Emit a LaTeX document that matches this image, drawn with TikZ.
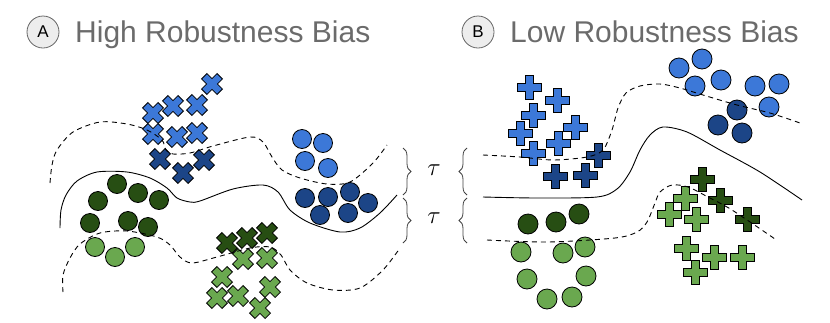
\documentclass[tikz,border=0pt]{standalone}
\usepackage{fontspec}
\setsansfont{Liberation Sans}
\usepackage{xcolor}
\usetikzlibrary{positioning, decorations.pathreplacing}

\definecolor{lblue}{HTML}{3C78D8}
\definecolor{dblue}{HTML}{1C4587}
\definecolor{lgreen}{HTML}{6AA84F}
\definecolor{dgreen}{HTML}{274E13}
\definecolor{titlegray}{HTML}{6B6B6B}

\tikzset{
  xcross/.pic={
    \filldraw[line width=0.8pt, line join=miter]
      (-3.8,-11) -- (3.8,-11) -- (3.8,-3.8) -- (11,-3.8) -- (11,3.8) -- (3.8,3.8)
      -- (3.8,11) -- (-3.8,11) -- (-3.8,3.8) -- (-11,3.8) -- (-11,-3.8) -- (-3.8,-3.8) -- cycle;
  },
  pcross/.pic={
    \filldraw[line width=0.8pt, line join=miter]
      (-4,-12) -- (4,-12) -- (4,-4) -- (12,-4) -- (12,4) -- (4,4)
      -- (4,12) -- (-4,12) -- (-4,4) -- (-12,4) -- (-12,-4) -- (-4,-4) -- cycle;
  }
}

\begin{document}
\begin{tikzpicture}[
    x=1pt, y=-1pt,
    dot/.style={circle, draw=black, line width=0.8pt, minimum size=19pt, inner sep=0pt},
    bigdot/.style={dot, minimum size=20pt},
    tag/.style={circle, draw=black!60, fill=black!7, line width=0.8pt, minimum size=32pt,
                inner sep=0pt, font=\sffamily\fontsize{17}{20}\selectfont},
    heading/.style={anchor=base west, inner sep=0pt, text=titlegray,
                    font=\sffamily\fontsize{30}{34}\selectfont},
    bound/.style={line width=0.9pt, smooth},
    margin/.style={bound, dashed, dash pattern=on 5pt off 4pt},
    gap/.style={decorate, decoration={brace, amplitude=8pt}, line width=0.8pt, black!75},
    taulabel/.style={font=\fontsize{26}{30}\selectfont}
]
    \useasboundingbox (0,0) rectangle (830,322);

    % titles
    \node[tag] (ca) at (43,32) {A};
    \node[heading] (ta) at (75,42) {High Robustness Bias};
    \node[tag] (cb) at (478,32) {B};
    \node[heading] (tb) at (510,42) {Low Robustness Bias};

    % A: crosses
    \foreach \p [count=\i] in {(212,84),(153,113),(173,106),(197,105),(153,134),(177,137),(197,133)}
        \pic[fill=lblue, rotate=45] (axl\i) at \p {xcross};
    \foreach \p [count=\i] in {(160,159),(183,173),(204,160)}
        \pic[fill=dblue, rotate=45] (axd\i) at \p {xcross};
    \foreach \p [count=\i] in {(227,243),(247,238),(267,233)}
        \pic[fill=dgreen, rotate=45] (axg\i) at \p {xcross};
    \foreach \p [count=\i] in {(243,259),(267,258),(222,277),(270,287),(217,298),(238,296),(260,308)}
        \pic[fill=lgreen, rotate=45] (axh\i) at \p {xcross};

    % A: circles
    \foreach \p [count=\i] in {(302,139),(323,143),(305,161),(328,168)}
        \node[dot, fill=lblue] (aol\i) at \p {};
    \foreach \p [count=\i] in {(305,198),(328,197),(350,192),(368,203),(320,215),(348,213)}
        \node[dot, fill=dblue] (aod\i) at \p {};
    \foreach \p [count=\i] in {(117,184),(98,201),(138,193),(159,200),(90,223),(128,221),(148,227)}
        \node[dot, fill=dgreen] (aog\i) at \p {};
    \foreach \p [count=\i] in {(95,247),(115,257),(135,247)}
        \node[dot, fill=lgreen] (aoh\i) at \p {};

    % A: boundaries
    \draw[margin] plot coordinates {(50,183) (52,165) (57,150) (73,132) (100,122) (127,124) (147,130)
        (162,140) (166,150) (173,154) (190,153) (213,146) (250,137) (263,142) (272,157) (282,170)
        (300,178) (327,184) (350,182) (373,163) (387,145)};
    \draw[bound] plot coordinates {(60,228) (61,210) (66,195) (77,181) (97,172) (127,172) (150,178)
        (167,188) (177,198) (190,202) (200,201) (233,189) (263,185) (278,192) (290,210) (310,223)
        (340,232) (360,228) (380,213) (397,195)};
    \draw[margin] plot coordinates {(63,292) (63,275) (70,258) (80,244) (100,233) (127,231) (157,237)
        (170,245) (180,257) (192,263) (217,257) (250,248) (270,247) (281,255) (290,270) (307,283)
        (333,290) (360,288) (383,270) (400,248)};

    % B: crosses
    \foreach \p [count=\i] in {(529,87),(557,100),(533,115),(520,133),(575,127),(558,143),(533,153)}
        \pic[fill=lblue] (bxl\i) at \p {pcross};
    \foreach \p [count=\i] in {(598,155),(555,176),(585,175)}
        \pic[fill=dblue] (bxd\i) at \p {pcross};
    \foreach \p [count=\i] in {(702,179),(720,200),(747,219)}
        \pic[fill=dgreen] (bxg\i) at \p {pcross};
    \foreach \p [count=\i] in {(685,198),(669,214),(696,219),(686,248),(714,257),(742,257),(695,272)}
        \pic[fill=lgreen] (bxh\i) at \p {pcross};

    % B: circles
    \foreach \p [count=\i] in {(679,68),(702,59),(695,86),(721,80),(755,86),(779,84),(769,107)}
        \node[bigdot, fill=lblue] (bol\i) at \p {};
    \foreach \p [count=\i] in {(737,110),(718,125),(742,133)}
        \node[bigdot, fill=dblue] (bod\i) at \p {};
    \foreach \p [count=\i] in {(528,224),(556,222),(579,214)}
        \node[bigdot, fill=dgreen] (bog\i) at \p {};
    \foreach \p [count=\i] in {(521,252),(563,253),(585,247),(527,279),(586,276),(547,299),(572,297)}
        \node[bigdot, fill=lgreen] (boh\i) at \p {};

    % B: boundaries
    \draw[margin] plot coordinates {(483,155) (520,157) (553,160) (587,157) (603,150) (612,130)
        (618,108) (626,93) (640,86) (660,84) (680,88) (703,95) (737,105) (770,113) (800,123)};
    \draw[bound] plot coordinates {(483,197) (537,198) (597,197) (617,189) (630,172) (640,150)
        (650,135) (663,127) (687,132) (720,150) (760,172) (802,200)};
    \draw[margin] plot coordinates {(487,240) (548,242) (615,238) (637,232) (647,222) (655,203)
        (660,192) (672,185) (688,187) (708,197) (732,210) (775,239)};

    % margins
    \coordinate (ra1) at (403,148);
    \coordinate (ra2) at (403,195);
    \coordinate (ra3) at (403,198);
    \coordinate (ra4) at (403,243);
    \coordinate (lb1) at (467,148);
    \coordinate (lb2) at (467,195);
    \coordinate (lb3) at (467,198);
    \coordinate (lb4) at (467,243);
    \draw[gap] (ra1) -- (ra2);
    \draw[gap] (ra3) -- (ra4);
    \draw[gap] (lb2) -- (lb1);
    \draw[gap] (lb4) -- (lb3);
    \node[taulabel] (tau1) at (434,170) {$\tau$};
    \node[taulabel] (tau2) at (434,218) {$\tau$};
\end{tikzpicture}
\end{document}
